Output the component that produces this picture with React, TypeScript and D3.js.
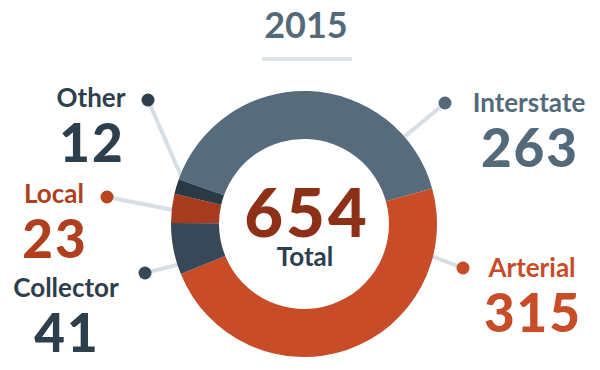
import React from "react";
import * as d3 from "d3";

const categories = ["Interstate", "Arterial", "Collector", "Local", "Other"];
const values = [263, 315, 41, 23, 12];
const totalLabel = "Total";
const yearLabel = "2015";

const sliceColors = ["#566b7c", "#c94c28", "#374858", "#a63b1d", "#2a3946"];
const textColors = ["#546a7b", "#c94c28", "#2d3e4c", "#b03f1e", "#2d3e4c"];
const dotColors = ["#546a7b", "#c94c28", "#374858", "#b84420", "#2d3e4c"];

// layout: label centre x, label baseline y, dot position, connector target angle (deg)
const layout = [
  { lx: 529, ly: 112, dx: 445, dy: 103, ang: 49 },
  { lx: 532, ly: 277, dx: 463, dy: 268, ang: 104 },
  { lx: 66, ly: 297, dx: 145, dy: 273, ang: 252 },
  { lx: 54, ly: 203, dx: 107, dy: 197, ang: 276 },
  { lx: 91, ly: 107, dx: 148, dy: 100, ang: 290 },
];

const W = 600;
const H = 370;
const cx = 304;
const cy = 224;
const outerR = 133;
const innerR = 85;
const FONT = "Lato, 'Open Sans', sans-serif";

export default function App() {
  const total = d3.sum(values);
  const start = (-70.3 * Math.PI) / 180;
  const pie = d3
    .pie<number>()
    .sort(null)
    .value((d) => d)
    .startAngle(start)
    .endAngle(start + 2 * Math.PI);
  const arcs = pie(values);
  const arc = d3.arc<d3.PieArcDatum<number>>().innerRadius(innerR).outerRadius(outerR);

  return (
    <svg
      width={W}
      height={H}
      style={{ position: "absolute", left: 0, top: 0, background: "#fff" }}
      fontFamily={FONT}
    >
      <text x={306} y={38} textAnchor="middle" fontSize={36} fontWeight={700} fill="#546a7b">
        {yearLabel}
      </text>
      <rect x={262} y={57} width={90} height={4} fill="#dde3e8" />

      {layout.map((l, i) => {
        const a = (l.ang * Math.PI) / 180;
        const ex = cx + (outerR - 4) * Math.sin(a);
        const ey = cy - (outerR - 4) * Math.cos(a);
        return (
          <line
            key={"ln" + i}
            x1={l.dx}
            y1={l.dy}
            x2={ex}
            y2={ey}
            stroke="#d8dfe4"
            strokeWidth={4}
          />
        );
      })}

      <g transform={`translate(${cx},${cy})`}>
        {arcs.map((a, i) => (
          <path key={"s" + i} d={arc(a) || ""} fill={sliceColors[i]} />
        ))}
      </g>

      {layout.map((l, i) => (
        <circle key={"d" + i} cx={l.dx} cy={l.dy} r={6.5} fill={dotColors[i]} />
      ))}

      {layout.map((l, i) => (
        <g key={"t" + i}>
          <text
            x={l.lx}
            y={l.ly}
            textAnchor="middle"
            fontSize={26}
            fontWeight={700}
            fill={textColors[i]}
          >
            {categories[i]}
          </text>
          <text
            x={l.lx + 1}
            y={l.ly + 55}
            textAnchor="middle"
            fontSize={53}
            fontWeight={900}
            letterSpacing={2}
            fill={textColors[i]}
          >
            {values[i]}
          </text>
        </g>
      ))}

      <text
        x={307}
        y={237}
        textAnchor="middle"
        fontSize={67}
        fontWeight={900}
        letterSpacing={3}
        fill="#8e2f17"
      >
        {total}
      </text>
      <text x={305} y={266} textAnchor="middle" fontSize={26} fontWeight={700} fill="#2d3e4e">
        {totalLabel}
      </text>
    </svg>
  );
}
